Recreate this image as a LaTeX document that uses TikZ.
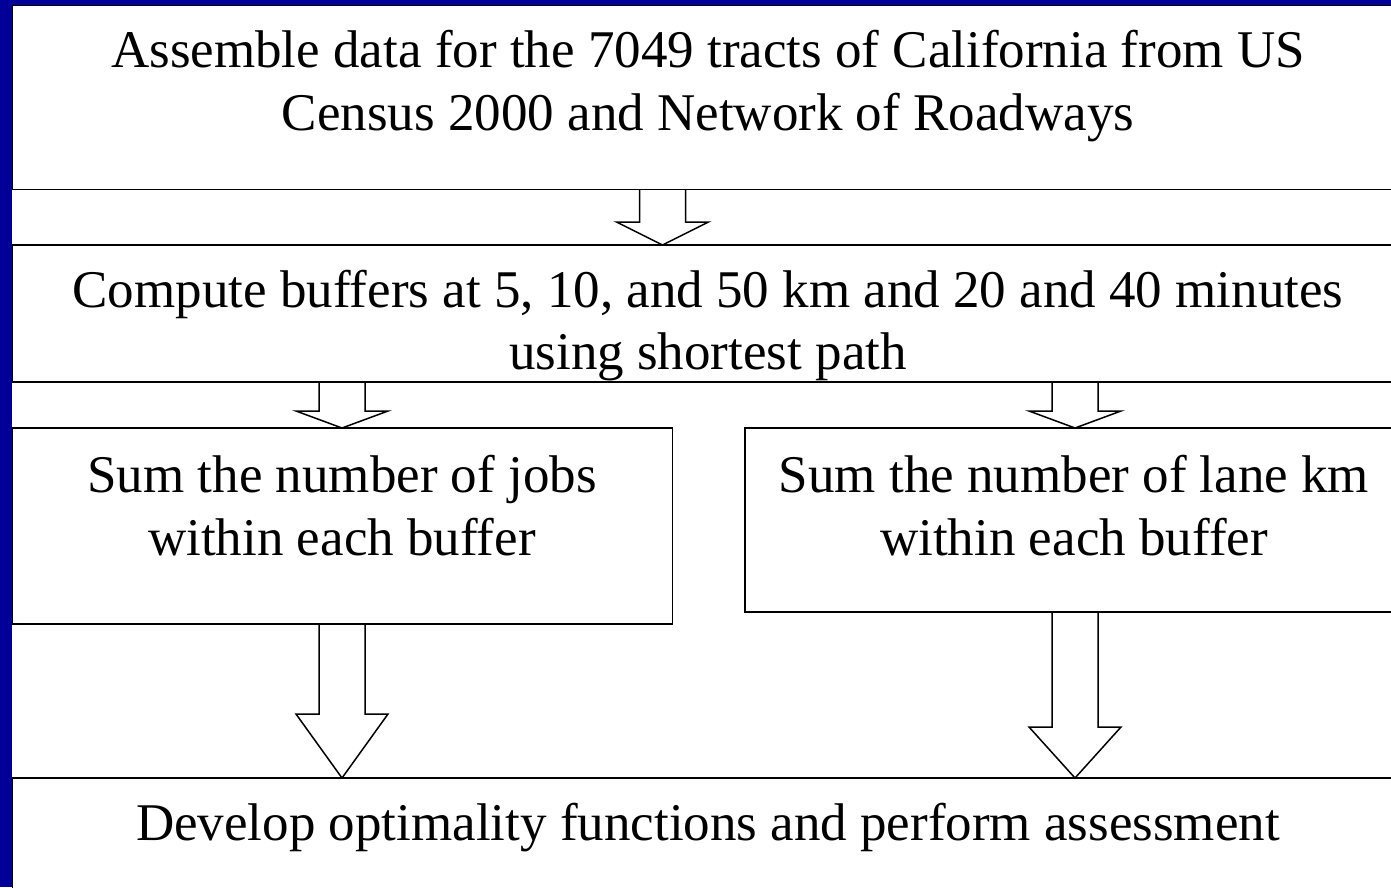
\documentclass[tikz,border=0pt]{standalone}
\usepackage{fontspec}
\setmainfont{Liberation Serif}
\usetikzlibrary{calc}
\definecolor{slideblue}{RGB}{0,0,153}
\newcommand\fatarrow[4]{% from node, to node, x (pt), head length (pt)
  \draw[fat] let \p1=(#1.south), \p2=(#2.north) in
    ({#3pt-23pt},\y1) -- ({#3pt-23pt},{\y2+#4pt}) -- ({#3pt-46pt},{\y2+#4pt})
    -- ({#3pt},\y2) -- ({#3pt+46pt},{\y2+#4pt}) -- ({#3pt+23pt},{\y2+#4pt})
    -- ({#3pt+23pt},\y1);}
\begin{document}
\begin{tikzpicture}[x=1pt,y=-1pt,
  box/.style={draw=black, line width=1.5pt, rectangle, inner sep=0pt, outer sep=0pt, anchor=north west},
  txt/.style={font=\fontsize{53}{62}\selectfont, anchor=base, inner sep=0pt},
  fat/.style={draw=black, line width=1.5pt, line join=miter}]
\useasboundingbox (0,0) rectangle (1391,887);
\fill[slideblue] (0,0) rectangle (1391,887);
\fill[white] (12,5) rectangle (1391,887);
\begin{scope}
\clip (0,0) rectangle (1391,887);
\node[box, minimum width=1392pt, minimum height=184pt] (b1) at (12.5,5.5) {};
\node[box, minimum width=1392pt, minimum height=137pt] (b2) at (12.5,245) {};
\node[box, minimum width=660pt, minimum height=196pt] (b3) at (12.5,428) {};
\node[box, minimum width=659pt, minimum height=184pt] (b4) at (745,428) {};
\node[box, minimum width=1392pt, minimum height=130pt] (b5) at (12.5,778) {};

\node[txt] (t1a) at (708,67) {Assemble data for the 7049 tracts of California from US};
\node[txt] (t1b) at (708,130) {Census 2000 and Network of Roadways};
\node[txt] (t2a) at (708,307) {Compute buffers at 5, 10, and 50 km and 20 and 40 minutes};
\node[txt] (t2b) at (708,369) {using shortest path};
\node[txt] (t3a) at (342,492) {Sum the number of jobs};
\node[txt] (t3b) at (342,555) {within each buffer};
\node[txt] (t4a) at (1074,492) {Sum the number of lane km};
\node[txt] (t4b) at (1074,555) {within each buffer};
\node[txt] (t5) at (708,840) {Develop optimality functions and perform assessment};

\fatarrow{b1}{b2}{662.5}{23}
\fatarrow{b2}{b3}{342}{17}
\fatarrow{b2}{b4}{1075}{17}
\fatarrow{b3}{b5}{342}{64}
\fatarrow{b4}{b5}{1075}{51}
\end{scope}
\end{tikzpicture}
\end{document}
